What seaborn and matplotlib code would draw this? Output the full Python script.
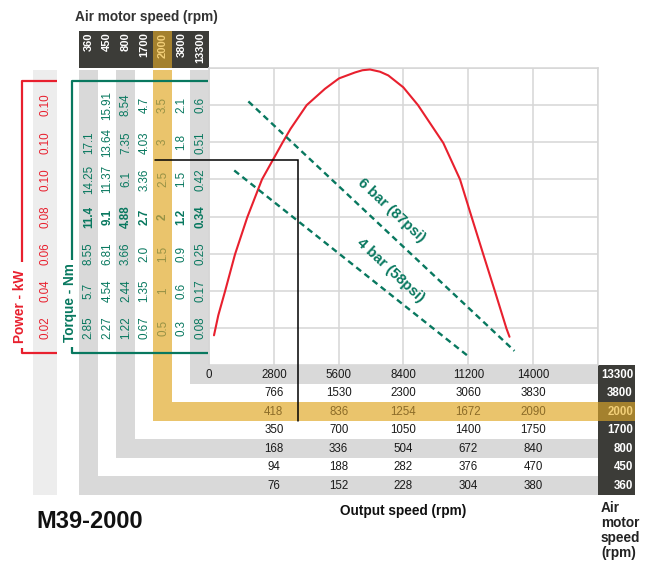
import numpy as np
import pandas as pd
import matplotlib
matplotlib.use("Agg")
import matplotlib.pyplot as plt
import matplotlib.transforms as mtransforms
from matplotlib.patches import Rectangle
import seaborn as sns

# ---------------- data ----------------
motor_speeds = ["360", "450", "800", "1700", "2000", "3800", "13300"]

# left scales, listed bottom -> top (one value per horizontal grid line)
power_kw = ["0.02", "0.04", "0.06", "0.08", "0.10", "0.10", "0.10"]
torque_360 = ["2.85", "5.7", "8.55", "11.4", "14.25", "17.1", ""]
torque_450 = ["2.27", "4.54", "6.81", "9.1", "11.37", "13.64", "15.91"]
torque_800 = ["1.22", "2.44", "3.66", "4.88", "6.1", "7.35", "8.54"]
torque_1700 = ["0.67", "1.35", "2.0", "2.7", "3.36", "4.03", "4.7"]
torque_2000 = ["0.5", "1", "1.5", "2", "2.5", "3", "3.5"]
torque_3800 = ["0.3", "0.6", "0.9", "1.2", "1.5", "1.8", "2.1"]
torque_13300 = ["0.08", "0.17", "0.25", "0.34", "0.42", "0.51", "0.6"]

# bottom table: output speed (rpm) per motor speed
out_13300 = ["0", "2800", "5600", "8400", "11200", "14000"]
out_3800 = ["766", "1530", "2300", "3060", "3830"]
out_2000 = ["418", "836", "1254", "1672", "2090"]
out_1700 = ["350", "700", "1050", "1400", "1750"]
out_800 = ["168", "336", "504", "672", "840"]
out_450 = ["94", "188", "282", "376", "470"]
out_360 = ["76", "152", "228", "304", "380"]

# chart axes: x = output speed on the 13300 rpm scale, y = torque on the 2000 rpm scale (Nm)
x_grid = [0, 2800, 5600, 8400, 11200, 14000, 16800]
y_grid = [0, 0.5, 1.0, 1.5, 2.0, 2.5, 3.0, 3.5, 4.0]

# power curve
power_speed = [216, 402, 691, 1123, 1654, 2289, 2755, 3166, 3520, 4219, 5009, 5614,
               6305, 6629, 6953, 7385, 7743, 8391, 9026, 10119, 10840, 11345, 11846,
               12351, 12848, 12978]
power_level = [0.40, 0.67, 0.99, 1.49, 1.99, 2.50, 2.76, 2.99, 3.18, 3.50, 3.72, 3.86,
               3.94, 3.97, 3.98, 3.95, 3.90, 3.74, 3.50, 2.99, 2.50, 1.99, 1.49,
               0.99, 0.49, 0.38]

# air pressure lines
p6_speed = [1700, 13190]
p6_torque = [3.55, 0.19]
p4_speed = [1090, 11270]
p4_torque = [2.62, 0.10]

# operating point marked with the black line
op_speed = 3860
op_torque = 2.76

# ---------------- styles ----------------
sns.set_style("white")
plt.rcParams["font.family"] = ["Liberation Sans", "DejaVu Sans"]

RED = "#E8202E"
GREEN = "#08785F"
GOLD = "#EAC46C"
DARK_GOLD = "#A4812E"
GRAY = "#D9D9D9"
LIGHT = "#EDEDED"
DARK = "#3C3C38"
OLIVE = "#979245"
BROWN = "#8C6C28"
GRID = "#D6D6D6"

W, H = 653, 562
fig = plt.figure(figsize=(W / 100, H / 100), dpi=100)

# background (pixel coordinate) axes
bg = fig.add_axes([0, 0, 1, 1])
bg.set_xlim(0, W)
bg.set_ylim(H, 0)
bg.axis("off")

PL, PR, PT, PB = 209, 598, 68, 365
COL0 = 79
CW = (PL - COL0) / 7
RH = 18.5

ax = fig.add_axes([PL / W, 1 - PB / H, (PR - PL) / W, (PB - PT) / H])
ax.patch.set_visible(False)
ax.set_xlim(0, 16800)
ax.set_ylim(0, 4.0)

# ---- L-shaped bands ----
row_order = ["13300", "3800", "2000", "1700", "800", "450", "360"]
fills = {"360": GRAY, "450": None, "800": GRAY, "1700": None,
         "2000": GOLD, "3800": None, "13300": GRAY}
for i, ms in enumerate(motor_speeds):
    j = row_order.index(ms)
    x0 = COL0 + i * CW
    rtop = PB + j * RH
    rbot = rtop + RH
    c = fills[ms]
    if c:
        bg.add_patch(Rectangle((x0, 69.5), CW, rbot - 69.5, color=c, lw=0, zorder=1))
        bg.add_patch(Rectangle((x0, rtop), PR - x0, RH, color=c, lw=0, zorder=1))

# power column
bg.add_patch(Rectangle((33, 69.5), 24, PB + 7 * RH - 69.5, color=LIGHT, lw=0, zorder=1))

# header box
bg.add_patch(Rectangle((COL0, 31), PL - COL0, PT - 31, color=DARK, lw=0, zorder=2))
bg.add_patch(Rectangle((COL0 + 4 * CW, 31), CW, PT - 31, color=DARK_GOLD, lw=0, zorder=2))
for i, ms in enumerate(motor_speeds):
    bg.text(COL0 + (i + 0.5) * CW + 0.5, 32.5, ms, rotation=90, ha="center", va="top",
            color="#F2CF78" if ms == "2000" else "white", fontsize=8,
            fontweight="bold", zorder=3)

# right box
bg.add_patch(Rectangle((PR, PB), 36.5, 7 * RH, color=DARK, lw=0, zorder=2))
bg.add_patch(Rectangle((PR, PB + 2 * RH), 36.5, RH, color=DARK_GOLD, lw=0, zorder=2))
for j, ms in enumerate(row_order):
    bg.text(633, PB + (j + 0.5) * RH + 0.5, ms, ha="right", va="center",
            color="#F2CF78" if ms == "2000" else "white", fontsize=8.3,
            fontweight="bold", zorder=3)

# torque and power scale labels
ytr = mtransforms.blended_transform_factory(bg.transData, ax.transData)
torque_cols = [torque_360, torque_450, torque_800, torque_1700,
               torque_2000, torque_3800, torque_13300]
for i, col in enumerate(torque_cols):
    xc = COL0 + (i + 0.5) * CW + 0.5
    for k, v in enumerate(col):
        if not v:
            continue
        bg.text(xc, y_grid[k + 1], v, transform=ytr, rotation=90, ha="center",
                va="center", fontsize=8.4, color=OLIVE if i == 4 else GREEN,
                fontweight="bold" if k == 3 else "normal", zorder=3)
for k, v in enumerate(power_kw):
    bg.text(45.5, y_grid[k + 1], v, transform=ytr, rotation=90, ha="center",
            va="center", fontsize=8.4, color=RED, zorder=3)

# brackets
bg.plot([57, 22, 22], [80.5, 80.5, 262], color=RED, lw=1.6, zorder=3, solid_capstyle="butt")
bg.plot([22, 22, 57], [348, 352.5, 352.5], color=RED, lw=1.6, zorder=3, solid_capstyle="butt")
bg.text(20, 306, "Power - kW", rotation=90, ha="center", va="center", color=RED,
        fontsize=9.8, fontweight="bold", zorder=3)
bg.plot([PL - 1, 72, 72], [80.5, 80.5, 260], color=GREEN, lw=1.6, zorder=3, solid_capstyle="butt")
bg.plot([72, 72, PL - 1], [347, 352.5, 352.5], color=GREEN, lw=1.6, zorder=3, solid_capstyle="butt")
bg.text(70, 303, "Torque - Nm", rotation=90, ha="center", va="center", color=GREEN,
        fontsize=9.8, fontweight="bold", zorder=3)

# bottom table values
xtr = mtransforms.blended_transform_factory(ax.transData, bg.transData)
out_rows = {"13300": out_13300, "3800": out_3800, "2000": out_2000, "1700": out_1700,
            "800": out_800, "450": out_450, "360": out_360}
for j, ms in enumerate(row_order):
    vals = out_rows[ms]
    offs = 0 if len(vals) == 6 else 1
    for m, v in enumerate(vals):
        bg.text(x_grid[m + offs], PB + (j + 0.5) * RH + 0.5, v, transform=xtr,
                ha="center", va="center", fontsize=8.3,
                color=BROWN if ms == "2000" else "#1A1A1A", zorder=3)

# ---- main chart ----
ax.set_xticks(x_grid)
ax.set_yticks(y_grid)
ax.set_xticklabels([])
ax.set_yticklabels([])
ax.tick_params(length=0)
ax.grid(True, color=GRID, lw=1.1)
for s in ["top", "right", "left"]:
    ax.spines[s].set_color(GRID)
    ax.spines[s].set_linewidth(1.1)
ax.spines["bottom"].set_visible(False)

curve = pd.DataFrame({"speed": power_speed, "level": power_level})
sns.lineplot(data=curve, x="speed", y="level", ax=ax, color=RED, lw=1.5,
             sort=False, estimator=None, zorder=4, solid_joinstyle="round")

press = pd.DataFrame({
    "speed": p6_speed + p4_speed,
    "torque": p6_torque + p4_torque,
    "bar": ["6 bar"] * 2 + ["4 bar"] * 2,
})
sns.lineplot(data=press, x="speed", y="torque", units="bar", estimator=None, ax=ax,
             color=GREEN, lw=1.7, linestyle=(0, (2.6, 1.8)), zorder=4)

ax.text(7870, 2.08, "6 bar (87psi)", rotation=-43, rotation_mode="anchor", ha="center",
        va="center", color=GREEN, fontsize=10.5, fontweight="bold", zorder=5)
ax.text(7820, 1.27, "4 bar (58psi)", rotation=-43, rotation_mode="anchor", ha="center",
        va="center", color=GREEN, fontsize=10.5, fontweight="bold", zorder=5)

ax.set_xlabel("")
ax.set_ylabel("")

# black operating-point line (from the 2000 column to the 2000 output-speed row)
def bg_to_data(xp, yp):
    return ax.transData.inverted().transform(bg.transData.transform((xp, yp)))

x_start = bg_to_data(155, 0)[0]
y_end = bg_to_data(0, PB + 3 * RH)[1]
ax.plot([x_start, op_speed, op_speed], [op_torque, op_torque, y_end], color="black",
        lw=1.1, clip_on=False, zorder=6, solid_joinstyle="miter")

# titles
bg.text(146, 17, "Air motor speed (rpm)", ha="center", va="center", fontsize=9.8,
        fontweight="bold", color="#333333")
bg.text(36, 521, "M39-2000", ha="left", va="center", fontsize=17, fontweight="bold",
        color="#111111")
bg.text(403, 511, "Output speed (rpm)", ha="center", va="center", fontsize=9.8,
        fontweight="bold", color="#111111")
for n, word in enumerate(["Air", "motor", "speed", "(rpm)"]):
    bg.text(601, 508 + 15 * n, word, ha="left", va="center", fontsize=9.8,
            fontweight="bold", color="#222222")

fig.savefig("out.png", dpi=100)
